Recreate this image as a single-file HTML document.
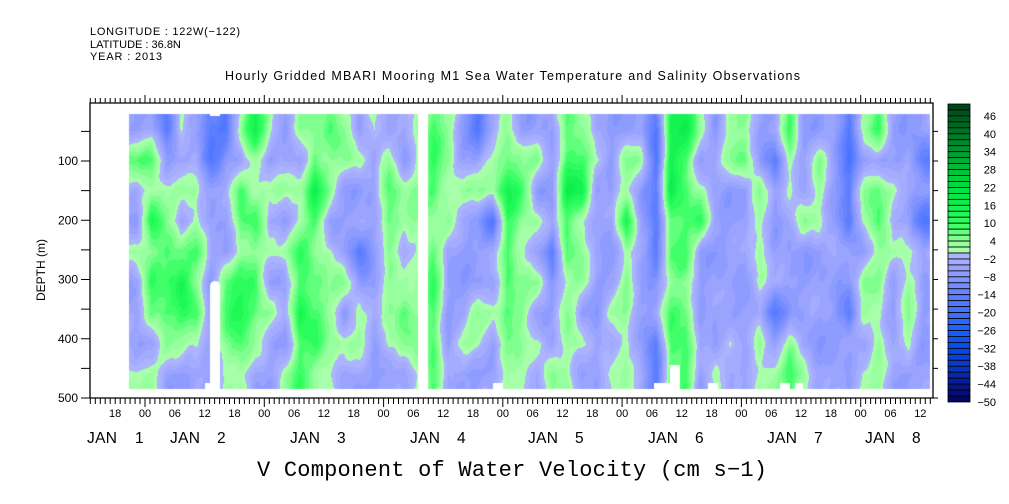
<!DOCTYPE html>
<html><head><meta charset="utf-8">
<style>
html,body{margin:0;padding:0;background:#fff;}
#wrap{position:relative;width:1009px;height:504px;overflow:hidden;}
svg text{font-family:"Liberation Sans",sans-serif;fill:#000;}
canvas{position:absolute;left:0;top:0;}
</style></head>
<body>
<div id="wrap">
<canvas id="heat" width="1009" height="504"></canvas>
<svg id="svg" width="1009" height="504" style="position:absolute;left:0;top:0">
<text x="90" y="35" font-size="11" textLength="150">LONGITUDE : 122W(−122)</text>
<text x="90" y="48" font-size="11">LATITUDE : 36.8N</text>
<text x="90" y="60" font-size="11" textLength="72">YEAR : 2013</text>
<text x="225" y="80" font-size="12.5" textLength="575">Hourly Gridded MBARI Mooring M1 Sea Water Temperature and Salinity Observations</text>
<text x="257" y="476" font-size="22" textLength="510" style="font-family:'Liberation Mono',monospace">V Component of Water Velocity (cm s−1)</text>
<text transform="translate(45,270) rotate(-90)" text-anchor="middle" font-size="12">DEPTH (m)</text>
<g id="axes"></g>
<g id="cbar"></g>
</svg>
</div>
<script>
// ---- data ----
var codeValues = {B:-16, b:-6, l:3, g:9, G:15};
// each string: one 3-hour column, top (20m) to bottom (490m), 9 depth bands
var columns = [
"bgbblbbbl","bglGlggbl","Bbllggglb","lblbgGglb","bbllglglb","BBbbbbbbb",
"Bbbbbggll","lbgglgGgl","Gllglgglb","lblblblbb","bblblbbbl",
"lbllggGgg","lgGglgggl","gllblllll","llbbblblb","blbbBbllb","lbbbbbbbb",
"blggllllb","bbllblglb","lllllllll",
"ggglggggg","llllbbbbb","bblbbbblb","Bblbbbllb","bllBbblbb","lgGggggll",
"blglllll l".replace(' ',''),"blblblblb","bbbbBbbbl","ggGggllll","lgGlllblb",
"blbbbbbbb","bbbbbblbl","bllGlllll","blbbbbbbb","BBBBBbbBB","GGGgglggg",
"Ggggglggg","lblgbbbbb","bbbbbbbbl","llbbbbblb","lgbbbbbbb","bbllllbll",
"bBbbbbBbl","gllbbbblg","bbblbbbbl","blllbbbbb","bbbbbbbbb","BBBBbbBbb",
"lbllbllbl","gbgglllll","bblblbbbb","bbbbllllb","bBbBbbbbb"
];
var hourLabels = ["18","00","06","12"]; // repeating 6-hourly labels
var dayNumbers = ["1","2","3","4","5","6","7","8"];
var depthTicks = [100,200,300,400,500];
var cbarLabels = [46,40,34,28,22,16,10,4,-2,-8,-14,-20,-26,-32,-38,-44,-50];

// ---- scales ----
var X0 = 90, X1 = 933, Y0 = 103, Y1 = 398;
function xHour(h){ return 145 + h*4.97; }     // h = hours since Jan 2 00:00
function yDepth(d){ return 161 + (d-100)*0.5925; }
var dataStartHour = -3.22, colHours = 2.985;
var depthTop = 20, depthBot = 485;

// ---- colors ----
var stops = [[-50,[0,0,96]],[-44,[8,24,144]],[-38,[8,56,200]],[-32,[8,72,232]],[-26,[24,96,255]],
[-20,[64,112,255]],[-14,[96,128,255]],[-8,[136,152,255]],[-4,[160,168,255]],[0,[176,184,255]],
[0.001,[176,255,176]],[4,[144,255,152]],[10,[48,255,96]],[16,[16,240,80]],[22,[0,224,64]],
[28,[0,192,56]],[34,[0,152,48]],[40,[0,120,40]],[50,[0,64,24]]];
function colorAt(v){
  if(v<=stops[0][0]) return stops[0][1];
  for(var i=1;i<stops.length;i++){ if(v<=stops[i][0]){var a=stops[i-1],b=stops[i],t=(v-a[0])/(b[0]-a[0]);
    return [0,1,2].map(function(k){return Math.round(a[1][k]+(b[1][k]-a[1][k])*t);});}}
  return stops[stops.length-1][1];
}
function bandColor(v){ var lo=Math.floor(v/2)*2; return colorAt(lo+1); }

// ---- heatmap ----
var grid = columns.map(function(s){ return s.split('').map(function(c){return codeValues[c];}); });
var ncol = grid.length, nrow = 9;
var cv = document.getElementById('heat'), ctx = cv.getContext('2d');
var xa = xHour(dataStartHour), xb = Math.min(930, xHour(dataStartHour + ncol*colHours));
var xspan = xHour(dataStartHour + ncol*colHours) - xa;
var ya = yDepth(depthTop), yb = yDepth(depthBot);
var img = ctx.createImageData(1009,504);
function gv(c,r){ c=Math.max(0,Math.min(ncol-1,c)); r=Math.max(0,Math.min(nrow-1,r)); return grid[c][r]; }
for(var py=Math.round(ya); py<Math.round(yb); py++){
  var fr=(py-ya)/(yb-ya)*nrow-0.5;
  for(var px=Math.round(xa); px<Math.round(xb); px++){
    var fc=(px-xa)/xspan*ncol-0.5;
    var c0=Math.floor(fc), r0=Math.floor(fr), tx=fc-c0, ty=fr-r0;
    var wob = 1.3*Math.sin(px*0.13+py*0.05)+1.0*Math.sin(py*0.09-px*0.07)+0.7*Math.sin(px*0.37+py*0.11)*Math.cos(py*0.08);
    var v=(gv(c0,r0)*(1-tx)+gv(c0+1,r0)*tx)*(1-ty)+(gv(c0,r0+1)*(1-tx)+gv(c0+1,r0+1)*tx)*ty + wob;
    var col=bandColor(v), i=(py*1009+px)*4;
    img.data[i]=col[0]; img.data[i+1]=col[1]; img.data[i+2]=col[2]; img.data[i+3]=255;
  }
}
ctx.putImageData(img,0,0);
ctx.fillStyle='#fff';
ctx.fillRect(418,108,10,290);                 // data gap
ctx.fillRect(210,112,10,4);
ctx.beginPath(); ctx.moveTo(210,389); ctx.lineTo(210,286); ctx.arc(215,286,5,Math.PI,0); ctx.lineTo(220,389); ctx.fill();
ctx.fillRect(205,383,5,6);
ctx.fillRect(493,383,10,6); ctx.fillRect(654,383,26,6); ctx.fillRect(670,365,10,24);
ctx.fillRect(708,383,10,6); ctx.fillRect(780,383,10,6); ctx.fillRect(795,383,8,6);

// ---- axes ----
var NS='http://www.w3.org/2000/svg', axes=document.getElementById('axes');
function mk(tag,attrs,parent){ var e=document.createElementNS(NS,tag); for(var k in attrs) e.setAttribute(k,attrs[k]); (parent||axes).appendChild(e); return e; }
var frame = mk('path',{d:'M'+X0+' '+Y0+'H'+X1+'V'+Y1+'H'+X0+'Z',fill:'none',stroke:'#000','stroke-width':1.3});


var tp='';
for(var h=-11; h<=158; h++){
  var x=xHour(h).toFixed(1), major=(h%24===0);
  tp+='M'+x+' '+Y1+'v'+(major?9:6)+'M'+x+' '+Y0+'v-'+(major?8:5);
}
for(var d=50; d<=500; d+=50){
  var y=yDepth(d).toFixed(1);
  tp+='M'+X0+' '+y+'h-9M'+X1+' '+y+'h5';
}
var ticks = mk('path',{d:tp,stroke:'#000','stroke-width':1,fill:'none'});


depthTicks.forEach(function(d){
  var t=mk('text',{x:78,y:yDepth(d)+4,'text-anchor':'end','font-size':12});
  t.textContent=d;
  
  
});
for(var k=0, h2=-6; h2<=156; h2+=6, k++){
  var t=mk('text',{x:xHour(h2),y:417,'text-anchor':'middle','font-size':11});
  t.textContent=hourLabels[k%4];
  
  
}
var dayX=[87,170,290,410,528,648,767,865];
dayNumbers.forEach(function(s,i){
  var t=mk('text',{x:dayX[i],y:443,'font-size':15.5,textLength:30});
  t.textContent='JAN';
  
  
  var n=mk('text',{x:dayX[i]+(i===0?48:47),y:443,'font-size':15.5});
  n.textContent=s;
  
  
});

// ---- colorbar ----
var cb=document.getElementById('cbar'), nb=50, cTop=104, cBot=402, bh=(cBot-cTop)/nb;
for(var b=0;b<nb;b++){
  var v=50-2*b-1, c=colorAt(v);
  var r=mk('rect',{x:948,y:(cTop+b*bh).toFixed(2),width:22,height:bh.toFixed(2),fill:'rgb('+c.join(',')+')',stroke:'#000','stroke-width':0.8},cb);
  
  
}
cbarLabels.forEach(function(v){
  var y=cTop+(50-v)/2*bh;
  var t=mk('text',{x:996,y:y+4,'text-anchor':'end','font-size':11},cb);
  t.textContent=String(v).replace('-','−');
  
  
});
</script>
</body></html>
